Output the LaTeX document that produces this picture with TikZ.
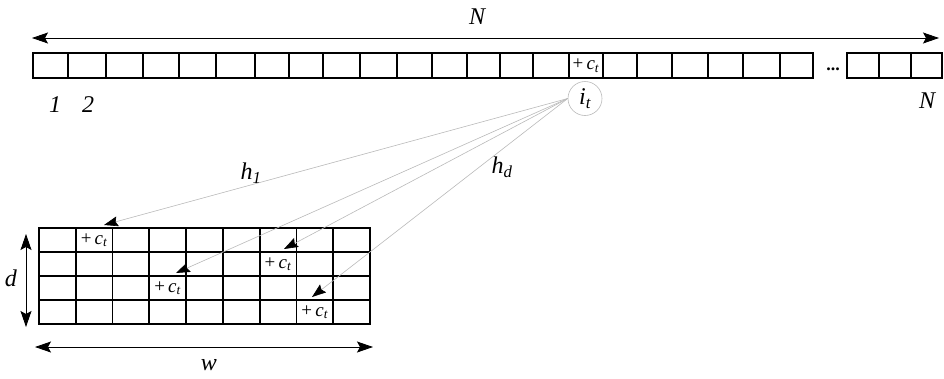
\documentclass[tikz,border=0pt]{standalone}
\usepackage{fontspec}
\setmainfont{Liberation Serif}
\usetikzlibrary{arrows.meta}
\newcommand{\sbt}[1]{\textsubscript{\textit{#1}}}
\begin{document}
\begin{tikzpicture}[x=1pt,y=-1pt,
  cellbox/.style={draw, line width=1.6pt, inner sep=0pt, minimum height=25pt},
  gridbox/.style={draw, line width=1.8pt, inner sep=0pt, minimum width=36.78pt, minimum height=24pt},
  lbl/.style={font=\fontsize{24}{28}\selectfont\itshape, inner sep=0pt},
  ctxt/.style={font=\fontsize{19}{22}\selectfont, inner sep=0pt},
  dimarrow/.style={line width=0.8pt, {Stealth[length=16pt,width=11pt,inset=3pt]}-{Stealth[length=16pt,width=11pt,inset=3pt]}},
  hline/.style={draw=gray!55, line width=0.6pt, -{Stealth[length=14pt,width=10pt,inset=2pt,black]}}
]
\useasboundingbox (0,0) rectangle (944,378);

% top bar
\foreach \a/\b [count=\i] in {33/68,68/106,106/143,143/179,179/216,216/255,255/289,289/323,323/360,360/397,397/432,432/467,467/500,500/533,533/569,569/603,603/637,637/672,672/708,708/743,743/780,780/813}
  \node[cellbox, minimum width={(\b-\a)*1pt}] (t\i) at ({(\a+\b)/2},65.5) {};
\foreach \a/\b [count=\i] in {847/879,879/911,911/942}
  \node[cellbox, minimum width={(\b-\a)*1pt}] (r\i) at ({(\a+\b)/2},65.5) {};
\node[ctxt] (ct0) at (t16) {+\,\textit{c}\sbt{t}};
\node[font=\fontsize{18}{20}\selectfont\bfseries, inner sep=0pt] (dots) at (833,69) {...};

% top arrow
\coordinate (nl) at (32,38);
\coordinate (nr) at (939,38);
\draw[dimarrow] (nl) -- (nr);
\node[lbl] (ntop) at (477,17) {N};

\node[lbl] (one) at (55,105) {1};
\node[lbl] (two) at (88,105) {2};
\node[lbl] (nright) at (927,101) {N};
\node[lbl, draw=gray!55, line width=0.6pt, circle, minimum size=34pt] (it) at (585,98.5) {i\sbt{t}};

% grid
\foreach \r in {1,...,4}
  \foreach \c in {1,...,9}
    \node[gridbox] (g-\r-\c) at ({39+36.78*(\c-0.5)},{228+24*(\r-0.5)}) {};
\node[ctxt] (c1) at (g-1-2) {+\,\textit{c}\sbt{t}};
\node[ctxt] (c2) at (g-2-7) {+\,\textit{c}\sbt{t}};
\node[ctxt] (c3) at (g-3-4) {+\,\textit{c}\sbt{t}};
\node[ctxt] (c4) at (g-4-8) {+\,\textit{c}\sbt{t}};

% hash arrows
\coordinate (a1) at (104,225);
\coordinate (a2) at (176,273);
\coordinate (a3) at (284,249);
\coordinate (a4) at (312,297);
\draw[hline] (it.west) -- (a1);
\draw[hline] (it.west) -- (a2);
\draw[hline] (it.west) -- (a3);
\draw[hline] (it.west) -- (a4);
\node[lbl] (h1) at (251,173) {h\sbt{1}};
\node[lbl] (hd) at (502,167) {h\sbt{d}};

% d and w
\coordinate (dt) at (26,234);
\coordinate (db) at (26,327);
\draw[dimarrow] (dt) -- (db);
\node[lbl] (dl) at (11,278) {d};
\coordinate (wl) at (35,347);
\coordinate (wr) at (373,347);
\draw[dimarrow] (wl) -- (wr);
\node[lbl] (wlab) at (209,365) {w};
\end{tikzpicture}
\end{document}
